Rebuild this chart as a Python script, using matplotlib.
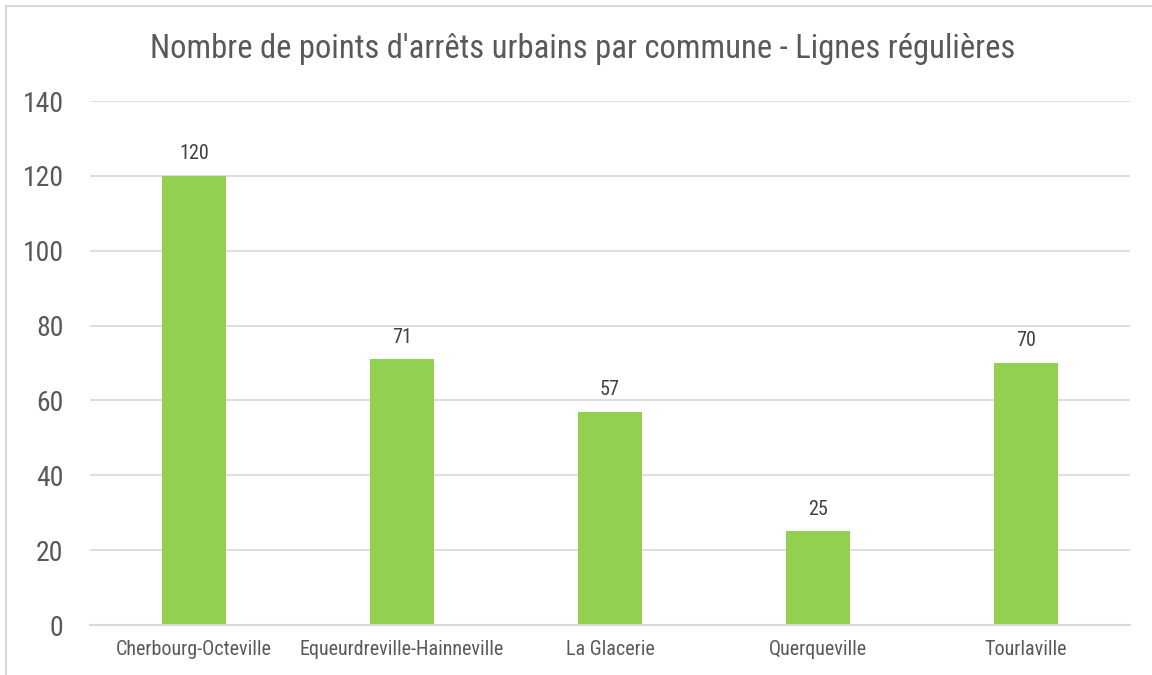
import matplotlib
matplotlib.use('Agg')
import matplotlib.pyplot as plt
from matplotlib.patches import Rectangle

plt.rcParams['font.family'] = ['Roboto Condensed', 'Liberation Sans', 'DejaVu Sans']

communes = ['Cherbourg-Octeville', 'Equeurdreville-Hainneville', 'La Glacerie',
            'Querqueville', 'Tourlaville']
arrets = [120, 71, 57, 25, 70]
yticks = [0, 20, 40, 60, 80, 100, 120, 140]

grey = '#595959'
green = '#92d050'

fig = plt.figure(figsize=(11.52, 6.75), dpi=100)
ax = fig.add_axes([90 / 1152, 1 - 625 / 675, 1040 / 1152, 524 / 675])

x = range(len(communes))
bars = ax.bar(x, arrets, width=0.31, color=green, zorder=2)
for b, v in zip(bars, arrets):
    ax.annotate(str(v), (b.get_x() + b.get_width() / 2, v), xytext=(0, 9),
                textcoords='offset points', ha='center', va='bottom',
                fontsize=14.5, color='#404040')

ax.set_xlim(-0.5, len(communes) - 0.5)
ax.set_ylim(0, 140)
ax.set_yticks(yticks)
ax.set_xticks(list(x))
ax.set_xticklabels(communes, fontsize=14.5, color=grey)
ax.tick_params(axis='y', labelsize=20, labelcolor=grey, length=0, pad=19)
ax.tick_params(axis='x', length=0, pad=11)
ax.grid(axis='y', color='#d9d9d9', linewidth=1.2, zorder=0)
for s in ['top', 'right', 'left']:
    ax.spines[s].set_visible(False)
ax.spines['bottom'].set_color('#d9d9d9')
ax.spines['bottom'].set_linewidth(1.5)

fig.text(583 / 1152, 1 - 49 / 675,
         "Nombre de points d'arrêts urbains par commune - Lignes régulières",
         ha='center', va='center', fontsize=23.5, color=grey)

# outer chart frame (partly cropped)
fig.patches.append(Rectangle((6 / 1152, -0.1), 1.2, 1.1 - 6 / 675,
                             transform=fig.transFigure, fill=False,
                             edgecolor='#d9d9d9', linewidth=1.5))

fig.savefig('out.png', dpi=100)
